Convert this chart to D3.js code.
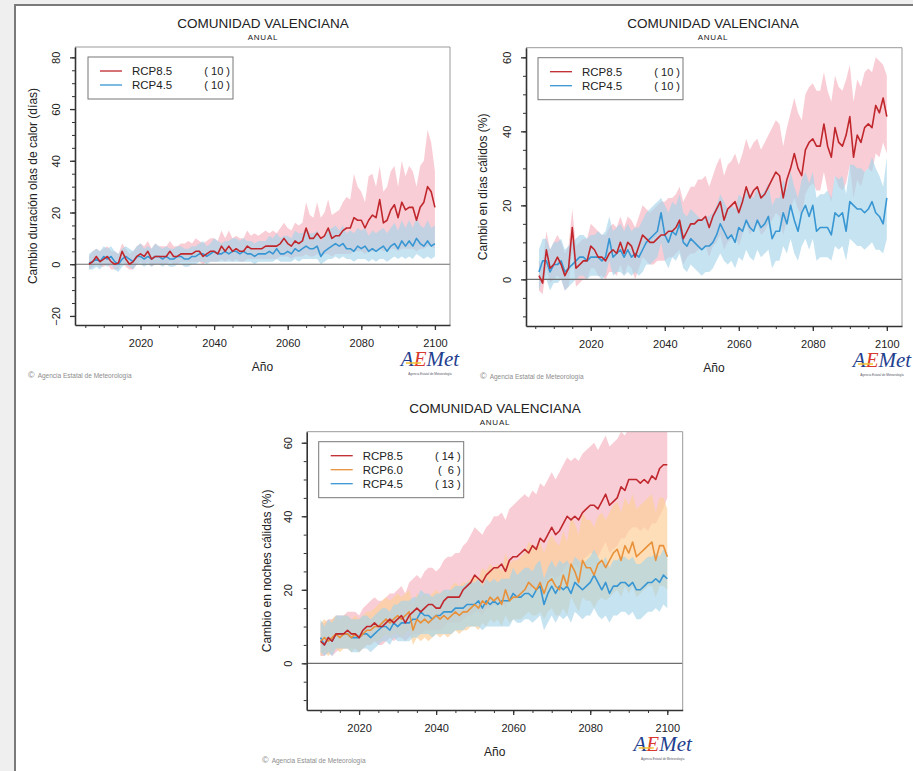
<!DOCTYPE html>
<html>
<head>
<meta charset="utf-8">
<script src="https://cdn.jsdelivr.net/npm/d3@7"></script>
<style>
body { margin: 0; background: #efefef; }
svg { display: block; font-family: "Liberation Sans", Arial, sans-serif; }
</style>
</head>
<body>
<div id="chart"></div>
<script>
// ---- text ----
var title    = "COMUNIDAD VALENCIANA";
var subtitle = "ANUAL";
var xLabel   = "Año";
var credit   = "Agencia Estatal de Meteorología";

// ---- panel 1: duración olas de calor (días), 2006-2100 ----
var years1 = d3.range(2006, 2101);
var p1_m85 = [0,1,3,1,2,3,1,0,0.5,5, 2,0,1,3,4,3,5,2,3,3, 3,3,5,3,3,4,4,4,4,5, 5,3,4,5,5,4,7,5,7,5,
  6,5,5,7,6,6,6,6,7,7, 7,7,8,10,8,7,9,8,9,14, 10,10,12,10,11,14,10,11,11,13, 14,14,18,17,17,14,17,19,18,25,
  16,17,21,23,18,24,21,22,22,17, 22,24,30,28,22];
var p1_hi85 = [3,5,6,5,6,7,5,5,4,8, 6,4,5,7,8,7,9,6,8,7, 7,7,9,7,7,8,8,9,8,10, 9,8,9,10,10,9,13,10,13,10,
  11,10,10,13,11,12,11,12,13,12, 13,12,14,16,14,13,16,15,16,24, 19,18,24,18,20,25,19,20,21,24, 26,25,35,30,28,24,34,35,30,38,
  28,30,36,38,30,40,34,38,36,30, 38,40,52,47,36];
var p1_lo85 = [-2,-1,0,-1,-1,0,-2,-2,-2,1, -1,-2,-2,0,1,0,1,-1,0,0, 0,0,1,0,0,1,1,1,1,1, 1,0,1,1,1,1,2,1,2,1,
  2,1,1,2,2,2,2,2,2,2, 2,2,3,3,3,2,3,3,3,4, 3,3,4,3,4,4,3,4,4,4, 4,4,5,5,5,4,5,5,5,6,
  5,5,6,6,5,6,6,6,6,5, 6,6,7,7,6];
var p1_m45 = [0.5,1,2,1,3,2,3,1,0,2, 3,2,1,3,3,2,3,2,3,3, 2,3,2,2,3,3,2,2,3,3, 4,4,3,4,5,4,4,5,4,5,
  5,4,5,4,4,3,4,4,4,5, 4,6,4,4,5,4,6,5,6,7, 6,6,7,3,5,6,7,8,7,8, 6,6,5,7,6,7,5,6,5,6,
  7,5,7,8,6,9,7,9,7,10, 8,7,9,7,8];
var p1_hi45 = [4,5,6,5,7,6,7,5,4,6, 7,6,5,7,8,6,7,6,8,7, 6,7,6,6,7,7,6,6,7,7, 8,9,7,8,10,9,8,9,9,10,
  10,9,10,9,9,8,9,9,9,11, 10,12,10,11,11,10,13,12,12,14, 12,12,13,9,11,13,14,15,13,15, 12,13,12,14,13,14,11,13,12,13,
  14,12,14,16,13,17,14,17,14,18, 15,14,17,14,15];
var p1_lo45 = [-2,-2,-1,-2,0,-1,0,-2,-3,-1, 0,-1,-2,0,0,-1,0,-1,0,0, -1,0,-1,-1,0,0,-1,-1,0,0, 1,1,0,1,1,1,1,1,1,1,
  1,1,1,1,1,0,1,1,1,1, 1,2,1,1,1,1,2,1,2,2, 2,2,2,0,1,2,2,3,2,3, 2,2,1,2,2,2,1,2,1,2,
  2,1,2,3,2,3,2,3,2,4, 3,2,3,2,3];

// ---- panel 2: días cálidos (%), 2006-2100 ----
var years2 = d3.range(2006, 2101);
var p2_m85 = [1,-1,8,3,4,6,4,1,3,14, 3,4,5,5,9,8,6,6,5,7, 8,7,10,7,10,9,6,9,12,11, 10,10,11,12,12,13,13,14,16,11,
  13,15,15,16,16,17,14,17,19,21, 16,19,20,21,18,21,25,22,24,25, 22,23,25,27,29,28,22,27,30,34, 30,28,35,37,38,36,36,42,36,33,
  41,37,36,39,44,33,39,37,41,42, 41,47,45,49,44];
var p2_hi85 = [5,4,13,8,10,12,10,7,9,19, 9,10,11,11,15,14,13,12,12,14, 15,14,17,14,17,16,14,17,20,19, 18,19,20,21,21,22,22,23,25,21,
  23,25,25,27,27,28,25,28,31,33, 28,31,32,34,31,34,38,35,37,38, 35,37,39,41,43,42,36,41,45,49, 45,43,50,52,53,51,51,56,51,48,
  55,52,51,54,58,48,54,52,56,57, 56,60,59,58,55];
var p2_lo85 = [-3,-4,3,-1,0,1,0,-3,-2,8, -2,-1,0,0,3,3,1,1,0,2, 2,1,4,1,4,3,0,3,6,5, 4,4,5,5,5,6,6,7,8,4,
  6,7,7,8,8,9,6,9,10,12, 8,10,11,12,9,12,15,12,14,15, 12,13,15,16,18,17,12,16,19,22, 19,17,23,25,26,24,24,29,24,21,
  28,25,24,26,31,22,27,25,29,30, 29,34,33,37,34];
var p2_m45 = [2,5,5,2,4,4,5,2,3,4, 5,6,6,5,6,6,6,5,6,11, 6,7,8,6,8,6,7,6,8,10, 11,12,13,18,12,10,13,12,15,10,
  9,11,10,9,8,9,9,10,12,15, 13,11,12,10,14,13,16,14,13,16, 14,15,17,11,13,13,18,15,20,16, 13,18,20,17,20,13,14,14,14,12,
  18,17,18,13,21,20,19,19,18,19, 21,18,17,15,22];
var p2_hi45 = [8,11,11,8,10,10,11,8,9,10, 11,12,12,11,12,12,13,12,13,17, 13,14,15,13,15,13,14,14,16,18, 19,20,21,22,20,18,21,20,23,18,
  17,19,18,17,16,17,17,18,20,23, 21,19,20,19,23,22,25,23,22,25, 23,24,26,20,22,22,27,24,29,25, 22,27,29,26,29,22,23,23,24,22,
  28,27,28,23,31,31,30,30,29,30, 33,30,28,25,33];
var p2_lo45 = [-3,0,0,-3,-1,-1,0,-3,-2,-1, 0,1,1,0,1,1,1,0,1,5, 1,2,2,1,2,1,2,1,2,4, 4,5,6,10,5,3,6,5,7,3,
  2,4,3,2,1,2,2,3,5,7, 5,4,5,3,6,5,8,6,5,8, 6,7,8,3,5,5,9,7,11,7, 5,9,11,8,11,5,6,6,6,5,
  9,8,9,5,11,10,9,9,8,9, 10,8,8,7,11];

// ---- panel 3: noches cálidas (%), 2010-2100 ----
var years3 = d3.range(2010, 2101);
var p3_m85 = [6,5,7,6,8,8,8,9,8,8, 7,9,10,10,11,10,10,11,12,11, 12,13,11,13,14,15,14,15,16,16, 15,15,17,18,18,18,18,20,21,22,
  24,23,22,24,25,26,26,27,25,28, 29,29,30,31,30,32,31,34,33,35, 37,35,36,38,40,39,40,39,41,42, 43,43,42,44,46,43,44,45,48,47,
  50,50,50,49,50,49,51,50,53,54, 54];
var p3_hi85 = [11,11,12,12,13,13,13,14,14,14, 13,15,16,17,18,17,17,18,19,19, 20,21,19,22,23,24,23,25,26,26, 25,26,28,29,29,30,30,32,33,35,
  37,36,35,37,38,40,40,41,39,42, 43,44,45,46,45,47,46,49,48,50, 52,50,52,54,56,55,56,55,57,58, 59,60,58,60,62,59,60,61,63,62,
  64,64,64,63,64,63,64,64,65,65, 65];
var p3_lo85 = [2,2,3,2,3,4,4,4,4,4, 3,4,5,5,6,5,5,6,7,6, 7,7,6,7,8,8,8,9,9,9, 9,9,10,11,11,11,11,12,13,13,
  14,14,13,15,15,16,16,17,15,18, 18,18,19,20,19,21,20,22,21,23, 24,23,24,25,27,26,27,26,28,29, 30,30,29,31,33,30,31,32,34,34,
  36,37,37,36,37,36,38,38,40,42, 45];
var p3_m60 = [6,7,6,7,8,7,8,8,7,8, 7,8,9,9,10,10,11,12,11,12, 13,12,13,14,9,12,11,12,11,12, 13,12,13,12,13,14,13,14,14,15,
  16,15,17,16,18,17,18,16,20,17, 18,18,19,20,22,21,20,22,19,22, 23,21,20,24,21,27,25,22,28,26, 26,24,27,28,26,28,30,31,28,32,
  30,33,29,30,31,32,33,28,32,32, 29];
var p3_hi60 = [11,12,11,12,13,12,13,13,12,13, 12,13,14,14,15,16,17,18,17,18, 19,18,19,20,16,19,18,19,18,19, 20,19,20,19,21,22,21,22,22,23,
  24,23,26,25,27,26,27,25,30,27, 28,28,29,30,33,32,31,33,30,33, 35,33,32,36,33,40,38,35,41,39, 39,37,40,41,39,41,43,44,41,45,
  43,46,42,43,44,45,46,41,45,45, 42];
var p3_lo60 = [2,3,2,3,4,3,4,4,3,4, 3,4,5,5,6,6,7,8,7,8, 8,7,8,9,5,7,6,7,6,7, 8,7,8,7,8,9,8,9,9,10,
  10,9,11,10,12,11,12,10,13,11, 12,12,12,13,14,13,13,14,12,14, 15,13,13,15,13,18,16,14,18,17, 17,15,17,18,17,18,19,20,18,21,
  19,21,18,19,20,21,21,18,21,21, 20];
var p3_m45 = [7,5,7,6,8,8,8,8,7,7, 7,8,8,7,8,9,10,10,9,11, 10,11,11,11,12,12,14,13,13,12, 13,13,14,14,14,15,15,15,16,16,
  16,17,15,17,16,17,16,17,17,17, 19,18,18,19,19,18,20,21,16,19, 21,19,21,20,21,19,22,21,20,21, 22,24,22,20,22,19,21,21,22,22,
  21,22,20,20,21,22,22,23,22,24, 23];
var p3_hi45 = [12,10,12,11,13,13,13,13,12,12, 12,13,13,12,13,14,15,15,14,16, 16,17,17,17,18,18,20,19,19,18, 19,19,20,20,20,21,21,21,22,22,
  22,23,21,23,22,23,22,23,23,23, 26,24,25,26,26,25,27,28,23,26, 28,26,28,27,28,26,29,28,27,28, 29,31,29,27,29,26,28,28,29,29,
  28,29,27,27,28,29,29,30,29,31, 30];
var p3_lo45 = [3,2,3,2,4,4,4,4,3,3, 3,4,4,3,4,5,6,6,5,7, 6,6,6,6,7,7,8,8,8,7, 8,8,8,8,8,9,9,9,10,10,
  10,10,9,10,10,10,10,10,10,10, 12,11,11,12,12,11,12,13,9,11, 13,11,13,12,13,11,14,13,12,13, 13,15,13,12,13,11,13,13,14,14,
  13,14,12,12,13,14,14,15,14,16, 15];

var svg = d3.select("#chart").append("svg")
    .attr("width", 913)
    .attr("height", 771);

// page frame
svg.append("rect")
    .attr("x", 15).attr("y", 5)
    .attr("width", 898).attr("height", 766)
    .attr("fill", "#fff");
svg.append("path")
    .attr("d", "M15,771V5H913")
    .attr("fill", "none")
    .attr("stroke", "#7a7a7a")
    .attr("stroke-width", 2);

var colors = {
  r85: {line: "#c0272d", band: "#f7b8c3", op: 0.7},
  r60: {line: "#e8913a", band: "#fcd09a", op: 0.7},
  r45: {line: "#3896d3", band: "#a6d4ea", op: 0.65}
};

function drawPanel(p) {
  var g = svg.append("g");
  var x = d3.scaleLinear().domain(p.xDom).range([p.left, p.right]);
  var y = d3.scaleLinear().domain(p.yDom).range([p.bottom, p.top]);

  g.append("clipPath").attr("id", "clip" + p.id)
    .append("rect")
      .attr("x", p.left).attr("y", p.top)
      .attr("width", p.right - p.left).attr("height", p.bottom - p.top);

  var plot = g.append("g").attr("clip-path", "url(#clip" + p.id + ")");

  // uncertainty bands
  p.series.forEach(function(s) {
    var rows = p.years.map(function(yr, i) { return {yr: yr, lo: s.lo[i], hi: s.hi[i]}; });
    plot.append("path")
      .datum(rows)
      .attr("d", d3.area().x(d => x(d.yr)).y0(d => y(d.lo)).y1(d => y(d.hi)))
      .attr("fill", s.c.band)
      .attr("fill-opacity", s.c.op);
  });

  // zero line
  plot.append("line")
    .attr("x1", p.left).attr("x2", p.right)
    .attr("y1", y(0)).attr("y2", y(0))
    .attr("stroke", "#6e6e6e")
    .attr("stroke-width", 1.2);

  // mean lines (first series on top)
  p.series.slice().reverse().forEach(function(s) {
    var rows = p.years.map(function(yr, i) { return {yr: yr, v: s.mean[i]}; });
    plot.append("path")
      .datum(rows)
      .attr("d", d3.line().x(d => x(d.yr)).y(d => y(d.v)))
      .attr("fill", "none")
      .attr("stroke", s.c.line)
      .attr("stroke-width", 1.6)
      .attr("stroke-linejoin", "round");
  });

  // light frame top/right
  g.append("path")
    .attr("d", "M" + p.left + "," + p.top + "H" + p.right + "V" + p.bottom)
    .attr("fill", "none")
    .attr("stroke", "#9a9a9a")
    .attr("stroke-width", 1);

  // x axis
  var xMinor = d3.range(Math.ceil(p.xDom[0] / 5) * 5, 2101, 5);
  g.append("g")
    .attr("transform", "translate(0," + p.bottom + ")")
    .call(d3.axisBottom(x).tickValues(xMinor).tickSize(3).tickFormat(""))
    .call(a => a.select(".domain").remove())
    .selectAll("line").attr("stroke", "#333");
  var xa = g.append("g")
    .attr("transform", "translate(0," + p.bottom + ")")
    .call(d3.axisBottom(x).tickValues(d3.range(2020, 2101, 20)).tickSize(5).tickSizeOuter(0).tickPadding(9).tickFormat(d3.format("d")));
  xa.select(".domain").attr("stroke", "#333").attr("stroke-width", 1.6);
  xa.selectAll("line").attr("stroke", "#333").attr("stroke-width", 1.3);
  xa.selectAll("text").attr("font-size", "11px").attr("fill", "#222").attr("font-family", null);

  // y axis
  var yMinor = d3.range(Math.ceil(p.yDom[0] / 5) * 5, p.yDom[1], 5);
  g.append("g")
    .attr("transform", "translate(" + p.left + ",0)")
    .call(d3.axisLeft(y).tickValues(yMinor).tickSize(3).tickFormat(""))
    .call(a => a.select(".domain").remove())
    .selectAll("line").attr("stroke", "#333");
  var ya = g.append("g")
    .attr("transform", "translate(" + p.left + ",0)")
    .call(d3.axisLeft(y).tickValues(p.yTicks).tickSize(5).tickSizeOuter(0).tickFormat(d3.format("d")));
  ya.select(".domain").attr("stroke", "#333").attr("stroke-width", 1.6);
  ya.selectAll("line").attr("stroke", "#333").attr("stroke-width", 1.3);
  ya.selectAll("text")
    .attr("x", null).attr("dy", "0.35em")
    .attr("transform", "translate(-19,0) rotate(-90)")
    .attr("text-anchor", "middle")
    .attr("font-size", "11px").attr("fill", "#222").attr("font-family", null);

  var cx = (p.left + p.right) / 2;

  // titles
  g.append("text").attr("x", p.titleX).attr("y", p.titleY)
    .attr("text-anchor", "middle").attr("font-size", "13.5px").attr("fill", "#222")
    .text(title);
  g.append("text").attr("x", p.titleX).attr("y", p.titleY + 12)
    .attr("text-anchor", "middle").attr("font-size", "8px").attr("letter-spacing", "0.8px").attr("fill", "#222")
    .text(subtitle);

  // axis labels
  g.append("text").attr("x", cx).attr("y", p.bottom + 46)
    .attr("text-anchor", "middle").attr("font-size", "12px").attr("fill", "#222")
    .text(xLabel);
  g.append("text")
    .attr("transform", "translate(" + p.yLabelX + "," + ((p.top + p.bottom) / 2) + ") rotate(-90)")
    .attr("text-anchor", "middle").attr("font-size", "12px").attr("fill", "#222")
    .text(p.yLabel);

  // legend
  var lg = g.append("g");
  var lh = p.series.length * 14 + 14;
  lg.append("rect")
    .attr("x", p.left + p.legX).attr("y", p.top + 10)
    .attr("width", 145).attr("height", lh)
    .attr("fill", "#fff").attr("stroke", "#777").attr("stroke-width", 1);
  p.series.forEach(function(s, i) {
    var ly = p.top + 24 + i * 14;
    lg.append("line")
      .attr("x1", p.left + p.legX + 12).attr("x2", p.left + p.legX + 34)
      .attr("y1", ly).attr("y2", ly)
      .attr("stroke", s.c.line).attr("stroke-width", 1.3);
    lg.append("text").attr("x", p.left + p.legX + 44).attr("y", ly + 4)
      .attr("font-size", "11.5px").attr("fill", "#222").text(s.name);
    lg.append("text").attr("x", p.left + p.legX + 142).attr("y", ly + 4)
      .attr("text-anchor", "end").style("white-space", "pre")
      .attr("font-size", "11px").attr("fill", "#222").text(s.n);
  });

  // credit
  var ct = g.append("text").attr("x", p.creditX).attr("y", p.bottom + 53)
    .attr("font-size", "6.5px").attr("fill", "#8c8c8c");
  ct.append("tspan").attr("font-size", "9px").text("©");
  ct.append("tspan").attr("dx", 3).text(credit);

  // logo
  var lgx = p.right - 20, lgy = p.bottom + 41;
  var lt = g.append("text").attr("x", lgx).attr("y", lgy)
    .attr("text-anchor", "middle")
    .attr("font-family", "'Liberation Serif', serif")
    .attr("font-style", "italic").attr("font-size", "21px");
  lt.append("tspan").attr("fill", "#23408e").text("A");
  lt.append("tspan").attr("fill", "#d9382d").text("E");
  lt.append("tspan").attr("fill", "#23408e").text("Met");
  g.append("line")
    .attr("x1", lgx - 24).attr("x2", lgx - 9)
    .attr("y1", lgy - 3).attr("y2", lgy - 3)
    .attr("stroke", "#f2c230").attr("stroke-width", 1.5);
  g.append("text").attr("x", lgx).attr("y", lgy + 9)
    .attr("text-anchor", "middle").attr("font-size", "3px").attr("fill", "#556")
    .text(credit);
}

drawPanel({
  id: 1, years: years1,
  left: 75, right: 450, top: 47, bottom: 325,
  xDom: [2002.2, 2104.1], yDom: [-23.5, 84], yTicks: [-20, 0, 20, 40, 60, 80],
  titleX: 263, titleY: 28, yLabelX: 37, legX: 13, creditX: 28,
  yLabel: "Cambio duración olas de calor (días)",
  series: [
    {name: "RCP8.5", n: "( 10 )", c: colors.r85, mean: p1_m85, lo: p1_lo85, hi: p1_hi85},
    {name: "RCP4.5", n: "( 10 )", c: colors.r45, mean: p1_m45, lo: p1_lo45, hi: p1_hi45}
  ]
});

drawPanel({
  id: 2, years: years2,
  left: 526, right: 902, top: 47.7, bottom: 326,
  xDom: [2002.5, 2104.1], yDom: [-12.6, 62.6], yTicks: [0, 20, 40, 60],
  titleX: 713, titleY: 28, yLabelX: 487, legX: 12, creditX: 480,
  yLabel: "Cambio en días cálidos (%)",
  series: [
    {name: "RCP8.5", n: "( 10 )", c: colors.r85, mean: p2_m85, lo: p2_lo85, hi: p2_hi85},
    {name: "RCP4.5", n: "( 10 )", c: colors.r45, mean: p2_m45, lo: p2_lo45, hi: p2_hi45}
  ]
});

drawPanel({
  id: 3, years: years3,
  left: 306.7, right: 682.7, top: 431.7, bottom: 710,
  xDom: [2006.4, 2104], yDom: [-12.7, 63], yTicks: [0, 20, 40, 60],
  titleX: 495, titleY: 413, yLabelX: 271, legX: 12, creditX: 262,
  yLabel: "Cambio en noches cálidas (%)",
  series: [
    {name: "RCP8.5", n: "( 14 )", c: colors.r85, mean: p3_m85, lo: p3_lo85, hi: p3_hi85},
    {name: "RCP6.0", n: "(  6 )", c: colors.r60, mean: p3_m60, lo: p3_lo60, hi: p3_hi60},
    {name: "RCP4.5", n: "( 13 )", c: colors.r45, mean: p3_m45, lo: p3_lo45, hi: p3_hi45}
  ]
});
</script>
</body>
</html>
